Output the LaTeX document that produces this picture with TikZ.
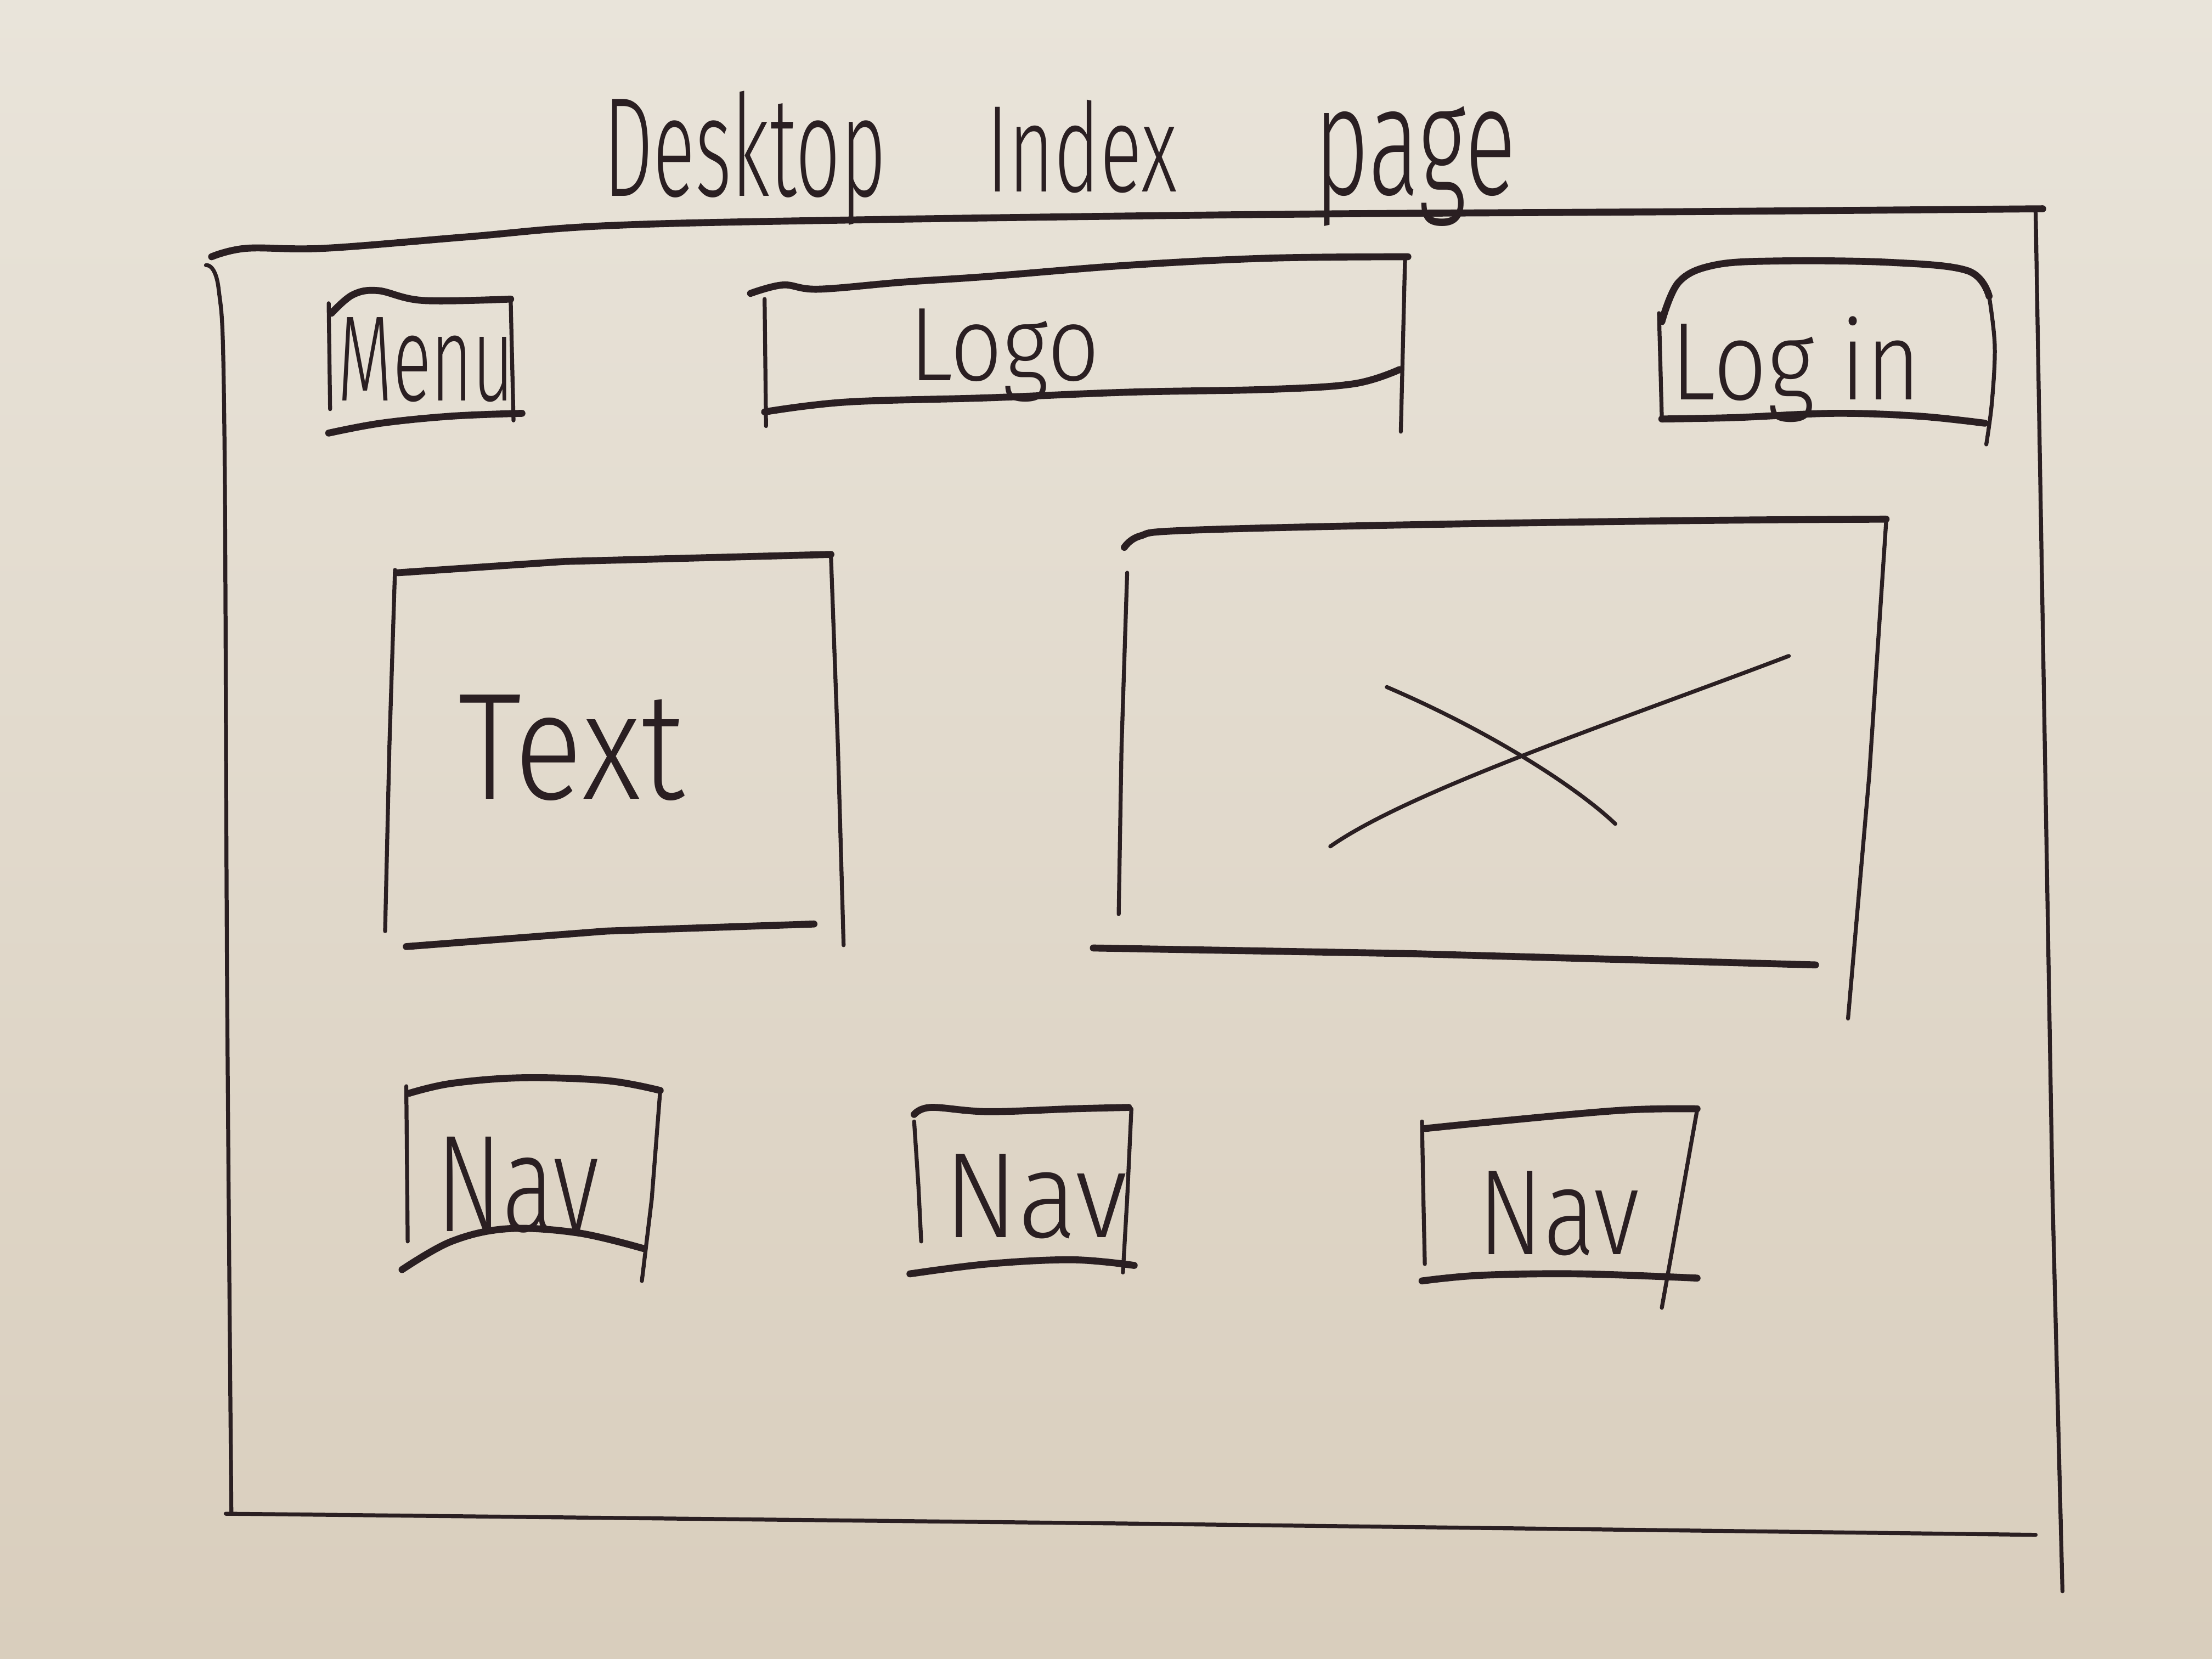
\documentclass[tikz,border=0pt]{standalone}
\usepackage{fontspec}
\usepackage{graphicx}
\newfontfamily\hand{Fira Sans Light}
\definecolor{ink}{HTML}{2A1F22}
\definecolor{paperTop}{HTML}{E9E4DA}
\definecolor{paperBottom}{HTML}{D9CEBD}
% hand-sized label: width, total height, text
\newcommand{\hw}[3]{\resizebox*{#1}{#2}{\hand #3}}
\tikzset{
  thick stroke/.style={draw=ink, line width=1.4pt, line cap=round, line join=round},
  thin stroke/.style={draw=ink, line width=0.8pt, line cap=round, line join=round},
  label/.style={inner sep=0pt, text=ink},
}
\begin{document}
\begin{tikzpicture}[x=0.01cm, y=-0.01cm]
  % paper
  \fill[top color=paperTop, bottom color=paperBottom] (0,0) rectangle (1568,1176);
  \useasboundingbox (0,0) rectangle (1568,1176);

  % title
  \node[label] (tDesktop) at (528,112) {\hw{2.0cm}{0.95cm}{Desktop}};
  \node[label] (tIndex) at (767,104) {\hw{1.35cm}{0.66cm}{Index}};
  \node[label] (tPage) at (1003,118) {\hw{1.43cm}{0.85cm}{page}};

  % outer frame
  \path[thick stroke] plot[smooth, tension=0.6] coordinates
    {(150,182) (175,176) (230,176) (330,168) (430,160) (600,156) (900,152) (1200,150) (1448,148)};
  \path[thin stroke] plot[smooth, tension=0.6] coordinates
    {(146,188) (155,205) (159,300) (161,700) (164,1072)};
  \path[thin stroke] (1443,150) -- (1449,500) -- (1455,850) -- (1462,1128);
  \path[thin stroke] (160,1073) -- (800,1080) -- (1443,1088);

  % menu box
  \path[thick stroke] plot[smooth, tension=0.6] coordinates
    {(235,222) (250,209) (268,206) (300,213) (362,212)};
  \path[thin stroke] (233,215) -- (234,290);
  \path[thin stroke] (362,212) -- (364,298);
  \path[thick stroke] plot[smooth, tension=0.6] coordinates
    {(233,307) (270,300) (320,295) (370,293)};
  \node[label] (menu) at (302,255) {\hw{1.25cm}{0.6cm}{Menu}};

  % logo box
  \path[thick stroke] plot[smooth, tension=0.6] coordinates
    {(532,208) (555,202) (580,205) (640,200) (700,196) (800,188) (900,183) (998,182)};
  \path[thin stroke] (542,212) -- (543,302);
  \path[thin stroke] (996,182) -- (993,306);
  \path[thick stroke] plot[smooth, tension=0.6] coordinates
    {(542,292) (600,285) (700,282) (800,278) (900,276) (960,272) (992,262)};
  \node[label] (logo) at (712,252) {\hw{1.35cm}{0.66cm}{Logo}};

  % log in box
  \path[thick stroke] plot[smooth, tension=0.6] coordinates
    {(1178,228) (1190,200) (1215,188) (1260,185) (1340,186) (1395,192) (1410,210)};
  \path[thin stroke] plot[smooth, tension=0.6] coordinates
    {(1410,210) (1414,245) (1412,285) (1408,315)};
  \path[thin stroke] (1176,222) -- (1178,296);
  \path[thick stroke] plot[smooth, tension=0.6] coordinates
    {(1178,297) (1230,296) (1300,293) (1360,295) (1407,300)};
  \node[label] (login) at (1273,262) {\hw{1.77cm}{0.75cm}{Log in}};

  % text block
  \path[thick stroke] (282,406) -- (400,398) -- (589,393);
  \path[thin stroke] (280,404) -- (276,530) -- (273,660);
  \path[thin stroke] (589,393) -- (594,530) -- (598,670);
  \path[thick stroke] (288,671) -- (430,660) -- (577,655);
  \node[label] (text) at (405,530) {\hw{1.6cm}{0.75cm}{Text}};

  % image placeholder
  \path[thick stroke] plot[smooth, tension=0.6] coordinates
    {(797,388) (808,380) (840,376) (1000,372) (1200,369) (1337,368)};
  \path[thin stroke] (799,406) -- (795,530) -- (793,648);
  \path[thin stroke] (1337,370) -- (1325,550) -- (1310,722);
  \path[thick stroke] (775,672) -- (1000,676) -- (1287,684);
  \coordinate (crossA) at (983,487);
  \coordinate (crossB) at (1145,584);
  \coordinate (crossC) at (943,600);
  \coordinate (crossD) at (1268,465);
  \draw[thin stroke] (crossA) .. controls (1060,520) and (1120,560) .. (crossB);
  \draw[thin stroke] (crossC) .. controls (1000,560) and (1150,510) .. (crossD);

  % navigation buttons
  \path[thick stroke] plot[smooth, tension=0.6] coordinates
    {(290,775) (320,768) (370,764) (430,766) (468,773)};
  \path[thin stroke] (288,770) -- (289,880);
  \path[thin stroke] (468,773) -- (462,850) -- (455,908);
  \path[thick stroke] plot[smooth, tension=0.6] coordinates
    {(285,900) (320,880) (360,871) (410,874) (456,885)};
  \node[label] (nav1) at (367,840) {\hw{1.15cm}{0.68cm}{Nav}};

  \path[thick stroke] plot[smooth, tension=0.6] coordinates
    {(648,790) (660,785) (700,788) (760,786) (800,785)};
  \path[thin stroke] (648,795) -- (651,840) -- (653,880);
  \path[thin stroke] (802,786) -- (799,850) -- (796,902);
  \path[thick stroke] plot[smooth, tension=0.6] coordinates
    {(645,903) (700,896) (760,893) (804,897)};
  \node[label] (nav2) at (734,848) {\hw{1.3cm}{0.6cm}{Nav}};

  \path[thick stroke] plot[smooth, tension=0.6] coordinates
    {(1010,800) (1060,795) (1150,787) (1203,786)};
  \path[thin stroke] (1008,795) -- (1009,850) -- (1010,896);
  \path[thin stroke] (1203,787) -- (1190,860) -- (1178,927);
  \path[thick stroke] plot[smooth, tension=0.6] coordinates
    {(1008,908) (1050,904) (1120,903) (1203,906)};
  \node[label] (nav3) at (1105,860) {\hw{1.14cm}{0.6cm}{Nav}};
\end{tikzpicture}
\end{document}
